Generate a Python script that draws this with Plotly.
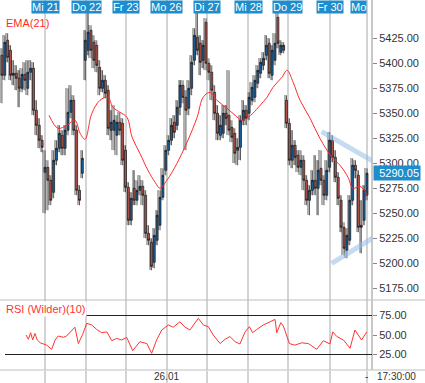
import plotly.graph_objects as go

# ---------------- data ----------------
opens = [5408,5388,5423,5413,5388,5390,5385,5375,5389,5375,5391,5395,5353,5338,5323,
         5291,5296,5283,5271,5303,5315,5328,5315,5333,5351,5363,5333,5273,5290,
         5403,5413,5433,5421,5418,5396,5375,5383,5373,5333,5333,5328,5341,5340,
         5313,5276,5243,5275,5263,5273,5277,5268,5230,5221,5201,5223,5238,5266,
         5293,5313,5323,5341,5338,5356,5378,5366,5355,5375,5403,5426,5420,5403,
         5441,5400,5391,5371,5350,5328,5330,5350,5348,5336,5330,5313,5316,5343,
         5353,5350,5363,5366,5380,5390,5398,5408,5420,5388,5403,5446,5411,5413,
         5363,5340,5303,5318,5308,5296,5303,5283,5263,5273,5283,5275,5295,5283,
         5268,5296,5323,5306,5286,5263,5236,5213,5223,5263,5298,5288,5236,5243,
         5268]
highs = [5415,5428,5430,5418,5403,5398,5393,5395,5401,5403,5403,5401,5363,5345,5328,
         5313,5303,5288,5313,5323,5338,5333,5338,5375,5378,5368,5338,5278,5313,
         5433,5458,5438,5428,5423,5403,5393,5388,5378,5353,5358,5348,5351,5345,
         5318,5281,5271,5293,5283,5288,5283,5273,5238,5225,5235,5253,5273,5295,
         5318,5328,5345,5348,5363,5383,5383,5373,5383,5408,5435,5458,5428,5423,
         5445,5405,5398,5378,5358,5348,5358,5358,5393,5343,5335,5325,5348,5363,
         5358,5371,5381,5388,5398,5405,5411,5428,5425,5418,5430,5451,5423,5421,
         5368,5345,5333,5323,5313,5313,5308,5288,5278,5293,5308,5303,5313,5288,
         5303,5331,5328,5313,5291,5268,5241,5235,5268,5305,5303,5293,5263,5278,
         5295]
lows = [5360,5383,5401,5383,5378,5373,5356,5371,5373,5368,5383,5348,5328,5315,5311,
        5250,5253,5258,5265,5298,5311,5308,5308,5328,5345,5328,5268,5258,5285,
        5383,5408,5405,5395,5391,5368,5371,5365,5328,5323,5313,5308,5328,5298,
        5271,5238,5238,5258,5258,5268,5258,5225,5218,5193,5195,5218,5233,5263,
        5288,5308,5318,5325,5333,5348,5360,5313,5348,5368,5398,5408,5388,5395,
        5393,5383,5363,5343,5323,5323,5325,5338,5328,5321,5300,5298,5303,5338,
        5338,5343,5358,5361,5375,5385,5393,5403,5385,5383,5398,5415,5408,5410,
        5335,5298,5295,5298,5291,5288,5273,5258,5248,5268,5268,5248,5278,5258,
        5263,5291,5301,5281,5258,5231,5208,5205,5218,5258,5285,5231,5210,5238,
        5263]
closes = [5388,5421,5406,5388,5390,5385,5375,5389,5383,5391,5395,5353,5338,5323,5316,
          5296,5283,5263,5303,5315,5330,5315,5333,5351,5363,5333,5273,5263,5305,
          5423,5431,5413,5403,5398,5375,5383,5370,5335,5341,5343,5341,5333,5303,
          5276,5243,5265,5263,5273,5277,5268,5230,5223,5197,5228,5248,5266,5288,
          5313,5323,5338,5331,5356,5378,5366,5353,5375,5401,5428,5413,5401,5418,
          5400,5391,5373,5350,5330,5338,5350,5345,5333,5326,5310,5316,5343,5353,
          5345,5366,5376,5383,5393,5401,5405,5418,5390,5413,5420,5420,5418,5418,
          5340,5303,5318,5306,5296,5303,5283,5263,5273,5283,5275,5293,5283,5268,
          5293,5323,5306,5286,5265,5236,5215,5228,5263,5298,5293,5236,5238,5273,
          5290.05]
candle_idx = list(range(len(closes)))

ema_x = [16.4,19.5,22.6,25.4,27.2,28.9,31.3,34.1,36.9,38.6,41.1,43.5,45.3,48.0,50.8,
         53.3,55.0,57.4,60.9,64.4,67.9,70.0,72.4,74.8,78.3,81.1,83.5,85.6,87.3,89.8,
         92.2,94.3,97.4,99.2,101.3,103.7,107.2,110.6,114.8,117.6,120.4,122.1,124.6,127.0]
ema_v = [5348,5335,5338,5343,5330,5324,5350,5363,5366,5356,5351,5346,5326,5310,5293,
         5281,5275,5283,5300,5321,5346,5366,5371,5363,5355,5348,5343,5346,5350,5358,
         5366,5376,5386,5393,5381,5363,5345,5325,5306,5298,5286,5275,5277,5268]

rsi_x = [8.4,9.2,10.0,10.7,11.5,12.3,13.3,15.6,17.3,18.5,19.6,21.4,22.5,23.9,25.4,26.6,
         28.1,29.5,31.2,33.0,34.7,36.5,38.2,39.9,41.7,43.4,45.5,48.0,50.4,52.1,53.8,55.6,
         57.9,59.6,61.9,63.7,65.4,68.3,70.1,71.8,73.5,75.9,77.6,79.3,81.1,82.8,84.6,86.1,
         87.2,88.6,90.9,93.3,95.0,95.6,97.0,97.9,100.0,101.9,104.3,106.6,109.5,111.8,
         114.1,115.1,116.5,118.8,121.1,122.8,125.1,126.9]
rsi_v = [50,44.5,53,43.6,52,43.6,40,37,31.6,43.6,48.7,47,48.7,54,60,39,
         51,65,63,57,53,54,42.7,45.7,43.6,47,30,41.4,39,26.5,43.6,56.4,
         62.8,60,67,60,56.4,71.4,62.8,60.7,50,39,44.5,48,41.4,38.5,54,60.7,
         53,57,62.8,67,70,53,65.8,61.5,39,37,40,39,31.6,42.7,
         38.5,54,48,43.6,33,56.4,43.6,54]

day_pos = [15.0, 29.3, 43.2, 57.4, 71.3, 85.6, 99.5, 114.1, 127.0]
day_labels = ["Mi 21", "Do 22", "Fr 23", "Mo 26", "Di 27", "Mi 28", "Do 29", "Fr 30", "Mo"]
price_ticks = [5175, 5200, 5225, 5250, 5275, 5300, 5325, 5350, 5375, 5400, 5425]
rsi_ticks = [25, 50, 75]
rsi_levels = [75, 25]
last_price = 5290.05
bottom_date = "26.01"
bottom_time = "17:30:00"

channel_up_x = [111.2, 130.4]
channel_up_y = [5331.6, 5300.0]
channel_lo_x = [114.7, 132.6]
channel_lo_y = [5200.0, 5231.6]

# ---------------- styling ----------------
W, H = 425, 383
ML, MR, MT, MB = 0, 53, 0, 13
PW, PH = W - ML - MR, H - MT - MB
RSI_FRAC = 70 / PH
BLUE_LBL = "#1f8ccc"
GRID = "#d3d3d3"
TXT = "#333333"
FONT = "Liberation Sans, Arial, sans-serif"

fig = go.Figure()

# gray shadow bars
fig.add_trace(go.Bar(
    x=candle_idx, y=[h - l for h, l in zip(highs, lows)], base=lows,
    width=0.35, offset=-0.72, marker=dict(color="#b0b0b0", line=dict(width=0)),
    xaxis="x", yaxis="y", hoverinfo="skip", showlegend=False))

fig.add_trace(go.Candlestick(
    x=candle_idx, open=opens, high=highs, low=lows, close=closes,
    increasing=dict(fillcolor="#1b62a0", line=dict(color="#111111", width=0.7)),
    decreasing=dict(fillcolor="#bb564c", line=dict(color="#111111", width=0.7)),
    whiskerwidth=0, xaxis="x", yaxis="y", showlegend=False))

fig.add_trace(go.Scatter(
    x=ema_x, y=ema_v, mode="lines", line=dict(color="#ff2b2b", width=1, shape="spline"),
    xaxis="x", yaxis="y", hoverinfo="skip", showlegend=False))

fig.add_trace(go.Scatter(
    x=rsi_x, y=rsi_v, mode="lines", line=dict(color="#ff3333", width=1),
    xaxis="x2", yaxis="y2", hoverinfo="skip", showlegend=False))

xr = [-0.66, 128.73]
common_x = dict(range=xr, tickvals=day_pos, showgrid=True, gridcolor=GRID, gridwidth=1.5,
                zeroline=False, showticklabels=False, showline=False, fixedrange=True)

fig.update_layout(
    width=W, height=H, margin=dict(l=ML, r=MR, t=MT, b=MB),
    paper_bgcolor="white", plot_bgcolor="white", barmode="overlay", bargap=0,
    boxgap=0.05,
    font=dict(family=FONT, size=11, color=TXT),
    xaxis=dict(**common_x, anchor="y", domain=[0, 1], rangeslider=dict(visible=False)),
    xaxis2=dict(**common_x, anchor="y2", domain=[0, 1], matches="x",
                ticks="outside", ticklen=13, tickcolor=GRID, tickwidth=1.5),
    yaxis=dict(domain=[RSI_FRAC, 1], range=[5163.3, 5463.3], side="right",
               tickvals=price_ticks, ticktext=[f"{v:.2f}" for v in price_ticks],
               ticks="outside", ticklen=4, tickcolor="#888", showgrid=False,
               zeroline=False, tickfont=dict(size=11, color=TXT), fixedrange=True),
    yaxis2=dict(domain=[0, RSI_FRAC], range=[5.1, 94.9], side="right",
                tickvals=rsi_ticks, ticktext=[f"{v:.2f}" for v in rsi_ticks],
                ticks="outside", ticklen=4, tickcolor="#888", showgrid=False,
                zeroline=False, tickfont=dict(size=11, color=TXT), fixedrange=True),
)

shapes = []
for yy in (RSI_FRAC, 0):
    shapes.append(dict(type="line", xref="paper", yref="paper", x0=0, x1=W / PW,
                       y0=yy, y1=yy, line=dict(color="#bdbdbd", width=1)))
shapes.append(dict(type="line", xref="paper", yref="paper", x0=1, x1=1, y0=0, y1=1,
                   line=dict(color="#c8c8c8", width=2)))
for lv in rsi_levels:
    shapes.append(dict(type="line", xref="paper", yref="y2", x0=5 / PW, x1=1,
                       y0=lv, y1=lv, line=dict(color="#222", width=1.2)))
shapes.append(dict(type="line", xref="x", yref="y", x0=channel_up_x[0], x1=channel_up_x[1],
                   y0=channel_up_y[0], y1=channel_up_y[1],
                   line=dict(color="rgba(150,190,232,0.55)", width=5)))
shapes.append(dict(type="line", xref="x", yref="y", x0=channel_lo_x[0], x1=channel_lo_x[1],
                   y0=channel_lo_y[0], y1=channel_lo_y[1],
                   line=dict(color="rgba(150,190,232,0.55)", width=5)))
fig.update_layout(shapes=shapes)

ann = []
for i, (p, t) in enumerate(zip(day_pos, day_labels)):
    last = i == len(day_pos) - 1
    ann.append(dict(x=p, y=1, xref="x", yref="paper", text=t, showarrow=False,
                    xanchor="right" if last else "center", yanchor="top",
                    bgcolor=BLUE_LBL, borderpad=0,
                    font=dict(color="white", size=11, family=FONT)))
ann.append(dict(x=4 / PW, y=(PH - 23) / PH, xref="paper", yref="paper", text="EMA(21)",
                showarrow=False, xanchor="left", yanchor="middle",
                font=dict(color="#ff2b2b", size=11, family=FONT)))
ann.append(dict(x=4 / PW, y=(PH - 309) / PH, xref="paper", yref="paper",
                text="RSI (Wilder)(10)", showarrow=False, xanchor="left", yanchor="middle",
                bgcolor="white", font=dict(color="#ff3333", size=11, family=FONT)))
BOT = dict(size=10, color=TXT, family=FONT)
ann.append(dict(x=day_pos[3], y=0, xref="x", yref="paper", text=bottom_date,
                showarrow=False, xanchor="center", yanchor="top", yshift=1, font=BOT))
ann.append(dict(x=1, y=0, xref="paper", yref="paper", text="-", showarrow=False,
                xanchor="right", yanchor="top", xshift=-2, yshift=1, font=BOT))
ann.append(dict(x=1, y=0, xref="paper", yref="paper", text=bottom_time, showarrow=False,
                xanchor="left", yanchor="top", xshift=3, yshift=1, font=BOT))
ann.append(dict(x=1, y=last_price, xref="paper", yref="y", text=f"{last_price:.2f}",
                showarrow=False, xanchor="left", yanchor="middle", xshift=1,
                bgcolor=BLUE_LBL, borderpad=1, width=44, align="right",
                font=dict(color="white", size=11, family=FONT)))
fig.update_layout(annotations=ann)

fig.write_html("out.html", config={"displayModeBar": False},
               post_script="document.body.style.margin='0';document.body.style.padding='0';")
